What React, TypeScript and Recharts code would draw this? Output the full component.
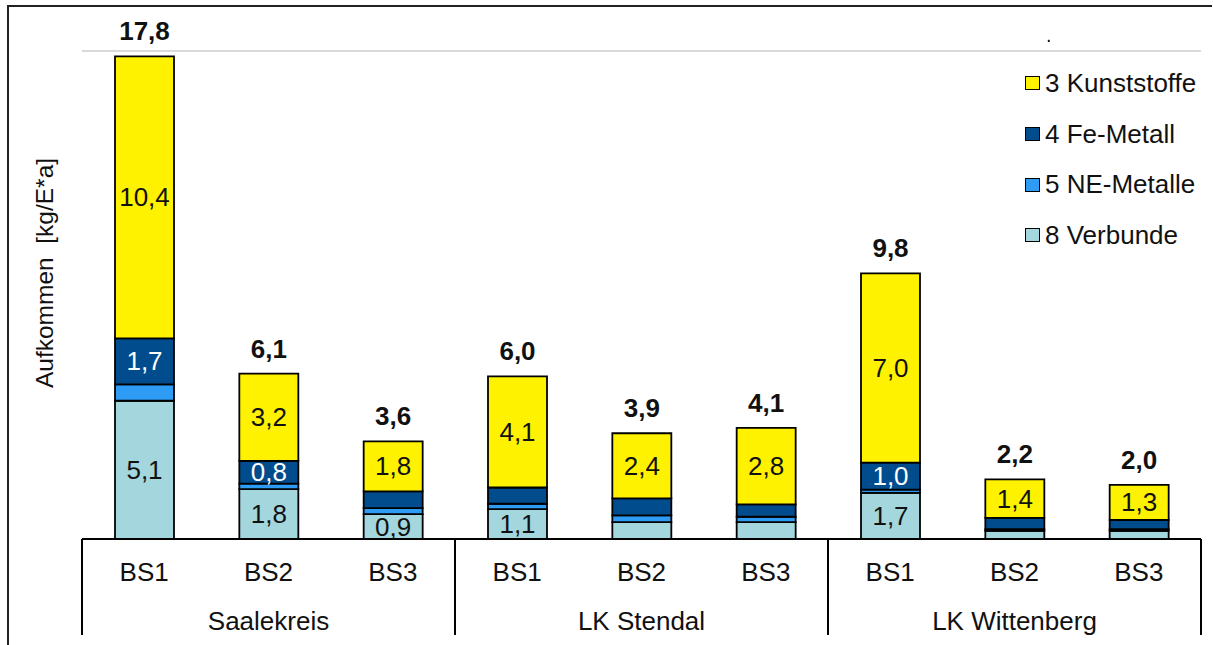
import React from 'react';
import { BarChart, Bar, XAxis, YAxis, CartesianGrid, Legend, LabelList } from 'recharts';

// Districts and sampling stations (three per district)
const groups = ['Saalekreis', 'LK Stendal', 'LK Wittenberg'];
const stations = ['BS1', 'BS2', 'BS3'];

// Amounts in kg per inhabitant and year, order: Saalekreis BS1..BS3, LK Stendal BS1..BS3, LK Wittenberg BS1..BS3
const verbunde = [5.1, 1.84, 0.92, 1.1, 0.62, 0.62, 1.7, 0.3, 0.3];
const neMetalle = [0.6, 0.2, 0.22, 0.2, 0.25, 0.2, 0.12, 0.06, 0.06];
const feMetall = [1.7, 0.84, 0.62, 0.6, 0.63, 0.46, 1.0, 0.42, 0.34];
const kunststoffe = [10.4, 3.22, 1.84, 4.1, 2.4, 2.82, 6.98, 1.42, 1.3];

const yTicks = [0, 2, 4, 6, 8, 10, 12, 14, 16, 18];

const series = [
  { key: 'verbunde', name: '8 Verbunde', fill: '#A4D6DE', text: '#111' },
  { key: 'ne', name: '5 NE-Metalle', fill: '#2E9BF5', text: '#111' },
  { key: 'fe', name: '4 Fe-Metall', fill: '#004C8C', text: '#fff' },
  { key: 'kunststoffe', name: '3 Kunststoffe', fill: '#FFF200', text: '#111' },
];

const rows = groups.flatMap((group, gi) =>
  stations.map((station, si) => {
    const i = gi * stations.length + si;
    const total = verbunde[i] + neMetalle[i] + feMetall[i] + kunststoffe[i];
    return {
      station,
      group,
      verbunde: verbunde[i],
      ne: neMetalle[i],
      fe: feMetall[i],
      kunststoffe: kunststoffe[i],
      total,
    };
  })
);

const FONT = '"Liberation Sans", Arial, sans-serif';
const FONT_SIZE = 26;
const CHART_W = 1200;
const CHART_H = 629;
const MARGIN = { top: 43, right: 7, bottom: 2, left: 0 };
const Y_AXIS_W = 74;
const STATION_AXIS_H = 45;
const GROUP_AXIS_H = 51;
const PLOT_W = CHART_W - MARGIN.left - MARGIN.right - Y_AXIS_W;
const GROUP_BAND = PLOT_W / groups.length;
const MIN_LABEL_VALUE = 0.8;

const fmt = (v: number) => v.toFixed(1).replace('.', ',');

const StationTick = (props: any) => {
  const { x, y, payload } = props;
  return (
    <text x={x} y={y + 42} textAnchor="middle" fontSize={FONT_SIZE} fill="#111" fontFamily={FONT}>
      {payload.value}
    </text>
  );
};

const GroupTick = (props: any) => {
  const { x, y, payload, index } = props;
  const left = x - GROUP_BAND / 2;
  const right = x + GROUP_BAND / 2;
  return (
    <g>
      <line x1={left} x2={left} y1={y - STATION_AXIS_H} y2={y + GROUP_AXIS_H} stroke="#000" strokeWidth={2} />
      {index === groups.length - 1 && (
        <line x1={right} x2={right} y1={y - STATION_AXIS_H} y2={y + GROUP_AXIS_H} stroke="#000" strokeWidth={2} />
      )}
      <text x={x} y={y + 46} textAnchor="middle" fontSize={FONT_SIZE} fill="#111" fontFamily={FONT}>
        {payload.value}
      </text>
    </g>
  );
};

const segmentLabel = (color: string) => (props: any) => {
  const { x, y, width, height, value } = props;
  if (value == null || Number(value) < MIN_LABEL_VALUE) return null;
  return (
    <text
      x={x + width / 2}
      y={y + height / 2}
      textAnchor="middle"
      dominantBaseline="central"
      fontSize={FONT_SIZE}
      fill={color}
      fontFamily={FONT}
    >
      {fmt(Number(value))}
    </text>
  );
};

const totalLabel = (props: any) => {
  const { x, y, width, value } = props;
  return (
    <text
      x={x + width / 2}
      y={y - 16}
      textAnchor="middle"
      fontSize={FONT_SIZE}
      fontWeight="bold"
      fill="#111"
      fontFamily={FONT}
    >
      {fmt(Number(value))}
    </text>
  );
};

const renderLegend = () => (
  <div style={{ display: 'flex', flexDirection: 'column', fontFamily: FONT }}>
    {[...series].reverse().map((s) => (
      <div key={s.key} style={{ height: 50.7, display: 'flex', alignItems: 'center' }}>
        <span
          style={{
            display: 'inline-block',
            boxSizing: 'border-box',
            width: 15,
            height: 14,
            background: s.fill,
            border: '1.5px solid #000',
            marginRight: 5,
          }}
        />
        <span style={{ fontSize: FONT_SIZE, color: '#111', whiteSpace: 'nowrap' }}>{s.name}</span>
      </div>
    ))}
  </div>
);

export default function App() {
  return (
    <div style={{ position: 'relative', width: CHART_W, height: CHART_H }}>
      <BarChart width={CHART_W} height={CHART_H} data={rows} margin={MARGIN}>
        <CartesianGrid vertical={false} stroke="#D9D9D9" strokeWidth={2} xAxisId={0} />
        <XAxis
          xAxisId={0}
          dataKey="station"
          height={STATION_AXIS_H}
          tickLine={false}
          tickSize={0}
          tickMargin={0}
          interval={0}
          axisLine={{ stroke: '#000', strokeWidth: 2 }}
          tick={StationTick}
        />
        <XAxis
          xAxisId={1}
          dataKey="group"
          allowDuplicatedCategory={false}
          height={GROUP_AXIS_H}
          tickLine={false}
          tickSize={0}
          tickMargin={0}
          interval={0}
          axisLine={false}
          tick={GroupTick}
        />
        <YAxis
          domain={[0, 18]}
          ticks={yTicks}
          width={Y_AXIS_W}
          tick={false}
          tickLine={false}
          axisLine={false}
          label={{
            content: () => (
              <text
                x={36}
                y={265}
                transform="rotate(-90 36 265)"
                textAnchor="middle"
                dominantBaseline="central"
                fontSize={24.5}
                fill="#111"
                fontFamily={FONT}
                style={{ whiteSpace: 'pre' }}
              >
                {'Aufkommen  [kg/E*a]'}
              </text>
            ),
          }}
        />
        <Legend
          content={renderLegend}
          layout="vertical"
          align="center"
          verticalAlign="middle"
          width={185}
          wrapperStyle={{ left: 1017, top: 50, width: 185 }}
        />
        {series.map((s, idx) => (
          <Bar
            key={s.key}
            xAxisId={0}
            dataKey={s.key}
            name={s.name}
            stackId="waste"
            fill={s.fill}
            stroke="#000"
            strokeWidth={1.8}
            barSize={59}
            isAnimationActive={false}
          >
            <LabelList dataKey={s.key} content={segmentLabel(s.text)} />
            {idx === series.length - 1 && <LabelList dataKey="total" content={totalLabel} />}
          </Bar>
        ))}
      </BarChart>
      <div
        style={{
          position: 'fixed',
          left: 7,
          top: 5,
          width: 1205,
          height: 640,
          borderLeft: '2px solid #222',
          borderTop: '2px solid #222',
          boxSizing: 'border-box',
          pointerEvents: 'none',
          zIndex: 10,
        }}
      />
      <div
        style={{
          position: 'fixed',
          left: 1046,
          top: 25,
          fontSize: 20,
          lineHeight: '20px',
          fontFamily: FONT,
          color: '#111',
          zIndex: 10,
        }}
      >
        .
      </div>
    </div>
  );
}
